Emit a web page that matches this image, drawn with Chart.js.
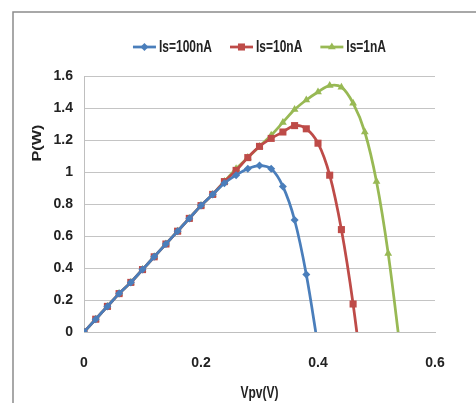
<!DOCTYPE html>
<html>
<head>
<meta charset="utf-8">
<script src="https://cdn.jsdelivr.net/npm/chart.js@4.4.1/dist/chart.umd.min.js"></script>
<style>
html,body{margin:0;padding:0;background:#fff;}
#wrap{width:476px;height:403px;position:relative;}
</style>
</head>
<body>
<div id="wrap"><canvas id="c" width="476" height="403"></canvas></div>
<script>
// Voltage steps (V)
const voltage = [0,0.02,0.04,0.06,0.08,0.10,0.12,0.14,0.16,0.18,0.20,0.22,0.24,0.26,0.28,0.30,0.32,0.34,0.36,0.38,0.40,0.42,0.44,0.46,0.48,0.50,0.52,0.54];
// Power (W) for each saturation current
const pIs100nA = [0,0.08,0.16,0.24,0.31,0.39,0.47,0.55,0.63,0.71,0.79,0.86,0.93,0.98,1.02,1.04,1.02,0.91,0.70,0.36,-0.09];
const pIs10nA  = [0,0.08,0.16,0.24,0.31,0.39,0.47,0.55,0.63,0.71,0.79,0.86,0.94,1.01,1.09,1.16,1.21,1.25,1.29,1.27,1.18,0.98,0.64,0.175,-0.41];
const pIs1nA   = [0,0.08,0.16,0.24,0.31,0.39,0.47,0.55,0.63,0.71,0.79,0.86,0.94,1.02,1.09,1.16,1.23,1.31,1.39,1.45,1.50,1.54,1.53,1.43,1.25,0.94,0.49,-0.09];
const seriesNames = ['Is=100nA','Is=10nA','Is=1nA'];
const xTicks = [0,0.2,0.4,0.6];
const yTicks = [0,0.2,0.4,0.6,0.8,1,1.2,1.4,1.6];
const xTitle = 'Vpv(V)';
const yTitle = 'P(W)';

const FONT = "'Liberation Sans',Arial,sans-serif";
const colors = ['#4A7EBB','#BE4B48','#98B954'];
const styles = ['rectRot','rect','triangle'];
const radii = [4,5,4.5];

function pts(arr){ return arr.map((p,i)=>({x:voltage[i], y:p})); }

const datasets = [pIs100nA,pIs10nA,pIs1nA].map((arr,i)=>({
  label: seriesNames[i],
  data: pts(arr),
  borderColor: colors[i],
  backgroundColor: colors[i],
  borderWidth: 2.75,
  pointStyle: styles[i],
  pointRadius: ctx => (ctx.raw && ctx.raw.y < 0) ? 0 : radii[i],
  pointBorderWidth: 0,
  pointHoverRadius: radii[i],
  tension: 0.35,
  fill: false
}));

const decor = {
  id:'decor',
  beforeDraw(chart){
    const c = chart.ctx;
    c.save();
    c.fillStyle='#fff';
    c.fillRect(0,0,chart.width,chart.height);
    c.strokeStyle='#8c8c8c';
    c.lineWidth=1.5;
    c.beginPath();
    c.moveTo(13,chart.height);
    c.lineTo(13,12);
    c.lineTo(chart.width,12);
    c.stroke();
    c.restore();
  },
  afterDraw(chart){
    const c = chart.ctx, a = chart.chartArea;
    c.save();
    // legend
    c.font = "bold 12px " + FONT;
    c.textBaseline='middle';
    const lineLen=23, gap=3, itemGap=18, ly=47;
    const widths = seriesNames.map(n=>c.measureText(n).width);
    let total = 0;
    widths.forEach((w,i)=>{ total += lineLen+gap+w + (i<widths.length-1?itemGap:0); });
    let x = (a.left+a.right)/2 - total/2;
    seriesNames.forEach((n,i)=>{
      c.strokeStyle=colors[i]; c.lineWidth=2.75;
      c.beginPath(); c.moveTo(x,ly); c.lineTo(x+lineLen,ly); c.stroke();
      c.fillStyle=colors[i];
      Chart.helpers.drawPoint(c,{pointStyle:styles[i],radius:radii[i],borderWidth:0},x+lineLen/2,ly);
      c.fillStyle='#222';
      c.textAlign='left';
      c.save();
      c.translate(x+lineLen+gap, ly+1);
      c.scale(1,1.3);
      c.fillText(n,0,0);
      c.restore();
      x += lineLen+gap+widths[i]+itemGap;
    });
    // axis titles
    c.fillStyle='#222';
    c.textAlign='center';
    c.save();
    c.translate((a.left+a.right)/2,394);
    c.scale(1,1.3);
    c.fillText(xTitle,0,0);
    c.restore();
    c.translate(38,143);
    c.rotate(-Math.PI/2);
    c.scale(1.35,1);
    c.fillText(yTitle,0,0);
    c.restore();
  }
};

new Chart(document.getElementById('c'),{
  type:'line',
  data:{datasets},
  options:{
    responsive:false,
    animation:false,
    layout:{padding:{left:0,top:76,right:41,bottom:0}},
    plugins:{legend:{display:false},tooltip:{enabled:false}},
    scales:{
      x:{
        type:'linear', min:0, max:0.6,
        afterFit(s){ s.height = 71; },
        afterBuildTicks(s){ s.ticks = xTicks.map(v=>({value:v})); },
        grid:{display:false, drawTicks:false},
        border:{display:true,color:'#bfbfbf',width:1},
        ticks:{padding:23,color:'#222',callback:v=>String(v),font:{family:FONT,size:14,weight:'bold'}}
      },
      y:{
        type:'linear', min:0, max:1.6,
        afterFit(s){ s.width = 84; },
        afterBuildTicks(s){ s.ticks = yTicks.map(v=>({value:v})); },
        grid:{color:'#c4c4c4',lineWidth:1,drawTicks:false},
        border:{display:true,color:'#bfbfbf',width:1},
        ticks:{padding:11,color:'#222',callback:v=>String(v),font:{family:FONT,size:14,weight:'bold'}}
      }
    }
  },
  plugins:[decor]
});
</script>
</body>
</html>
